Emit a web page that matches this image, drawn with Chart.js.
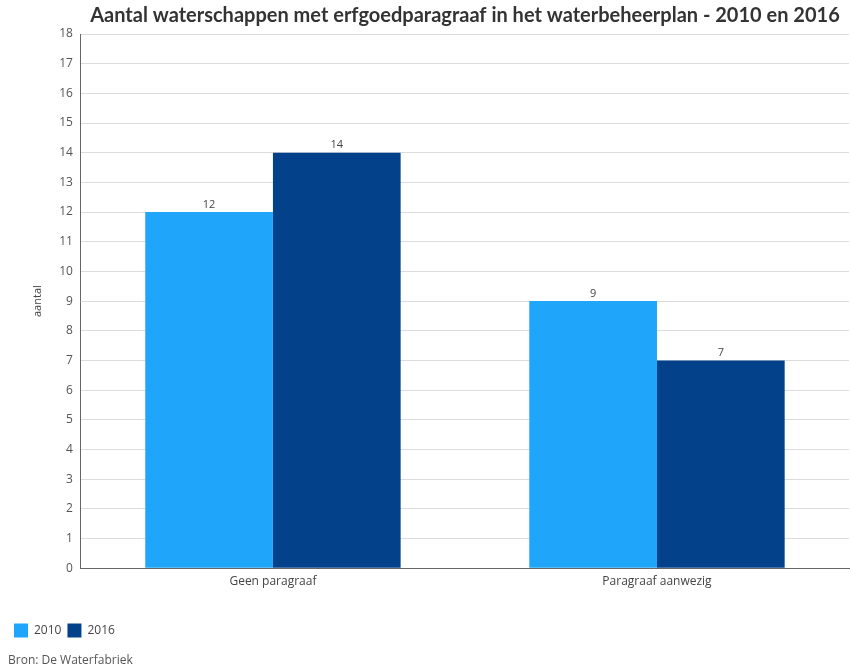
<!DOCTYPE html>
<html>
<head>
<meta charset="utf-8">
<script src="https://cdn.jsdelivr.net/npm/chart.js@4/dist/chart.umd.min.js"></script>
<style>
html,body{margin:0;padding:0;background:#fff;}
#wrap{position:relative;width:851px;height:672px;}
</style>
</head>
<body>
<div id="wrap"><canvas id="c"></canvas></div>
<script>
const categories = ["Geen paragraaf", "Paragraaf aanwezig"];
const seriesNames = ["2010", "2016"];
const values2010 = [12, 9];
const values2016 = [14, 7];
const yTicks = [0,1,2,3,4,5,6,7,8,9,10,11,12,13,14,15,16,17,18];

const labelPlugin = {
  id: 'barLabels',
  afterDatasetsDraw(chart) {
    const ctx = chart.ctx;
    ctx.save();
    ctx.font = '11px "Open Sans"';
    ctx.fillStyle = '#444';
    ctx.textAlign = 'center';
    ctx.textBaseline = 'bottom';
    chart.data.datasets.forEach((ds, i) => {
      chart.getDatasetMeta(i).data.forEach((bar, j) => {
        ctx.fillText(String(ds.data[j]), bar.x, bar.y - 2);
      });
    });
    ctx.restore();
  }
};

new Chart(document.getElementById('c'), {
  type: 'bar',
  data: {
    labels: categories,
    datasets: [
      { label: seriesNames[0], data: values2010, backgroundColor: '#1fa6fb', borderWidth: 0 },
      { label: seriesNames[1], data: values2016, backgroundColor: '#03428a', borderWidth: 0 }
    ]
  },
  options: {
    responsive: true,
    maintainAspectRatio: false,
    animation: false,
    devicePixelRatio: 1,
    layout: { padding: { left: 8, right: 2, top: 0, bottom: 0 } },
    datasets: { bar: { categoryPercentage: 0.665, barPercentage: 1.0 } },
    plugins: {
      title: {
        display: true,
        fullSize: false,
        text: 'Aantal waterschappen met erfgoedparagraaf in het waterbeheerplan - 2010 en 2016',
        font: { family: 'Lato', size: 20, weight: 'bold' },
        color: '#333',
        padding: { top: 4, bottom: 6 }
      },
      legend: {
        display: true,
        position: 'bottom',
        align: 'start',
        labels: {
          boxWidth: 14, boxHeight: 14,
          font: { family: 'Open Sans', size: 12 },
          color: '#444',
          padding: 6
        }
      },
      subtitle: {
        display: true,
        position: 'bottom',
        align: 'start',
        text: 'Bron: De Waterfabriek',
        font: { family: 'Open Sans', size: 12 },
        color: '#555',
        padding: { top: 6, bottom: 4 }
      },
      tooltip: { enabled: false }
    },
    scales: {
      x: {
        grid: { display: false, drawTicks: false },
        border: { color: '#666', width: 1 },
        ticks: { font: { family: 'Open Sans', size: 12 }, color: '#444', padding: 6 },
        afterFit(axis) { axis.height += 23; }
      },
      y: {
        min: 0, max: 18,
        afterBuildTicks(axis) { axis.ticks = yTicks.map(v => ({ value: v })); },
        grid: { color: '#dcdcdc', drawTicks: false },
        border: { color: '#666', width: 1 },
        ticks: { font: { family: 'Open Sans', size: 12 }, color: '#555', padding: 8 },
        title: { display: true, text: 'aantal', font: { family: 'Open Sans', size: 11 }, color: '#444', padding: { top: 23, bottom: 7 } }
      }
    }
  },
  plugins: [labelPlugin]
});
</script>
</body>
</html>
